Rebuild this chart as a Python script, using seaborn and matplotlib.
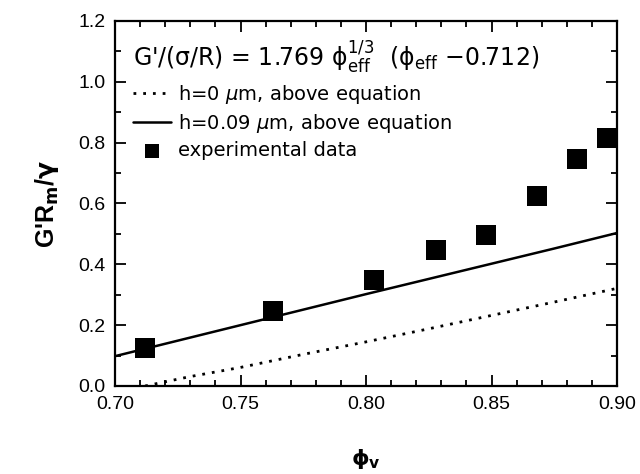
import numpy as np
import pandas as pd
import matplotlib
matplotlib.use('Agg')
import matplotlib.pyplot as plt
import seaborn as sns

# %%
# values
phi_exp = [0.712, 0.763, 0.803, 0.828, 0.848, 0.868, 0.884, 0.896]
g_exp = [0.125, 0.247, 0.349, 0.447, 0.497, 0.623, 0.745, 0.816]

# h=0 um curve (dotted)
phi_h0 = [0.712, 0.73, 0.75, 0.775, 0.80, 0.825, 0.85, 0.875, 0.90]
g_h0 = [0.000, 0.031, 0.061, 0.104, 0.145, 0.188, 0.232, 0.276, 0.321]

# h=0.09 um curve (solid)
phi_h9 = [0.70, 0.725, 0.75, 0.775, 0.80, 0.825, 0.85, 0.875, 0.90]
g_h9 = [0.098, 0.149, 0.200, 0.251, 0.302, 0.352, 0.402, 0.452, 0.503]

xticks = [0.70, 0.75, 0.80, 0.85, 0.90]
yticks = [0.0, 0.2, 0.4, 0.6, 0.8, 1.0, 1.2]

# %%
sns.set_style('ticks')
plt.rcParams['font.family'] = ['Liberation Sans', 'DejaVu Sans']
plt.rcParams['mathtext.fontset'] = 'dejavusans'
plt.rcParams['text.color'] = 'black'
plt.rcParams['axes.labelcolor'] = 'black'

fig = plt.figure(figsize=(6.4, 4.74), dpi=100)
ax = fig.add_axes([0.1797, 0.1857, 0.7844, 0.77])

sns.lineplot(x=phi_h0, y=g_h0, ax=ax, color='black', lw=2, linestyle=(0, (1, 2.5)),
             label=r'h=0 $\mu$m, above equation')
sns.lineplot(x=phi_h9, y=g_h9, ax=ax, color='black', lw=1.8,
             label=r'h=0.09 $\mu$m, above equation')
sns.scatterplot(x=phi_exp, y=g_exp, ax=ax, marker='s', s=205, color='black',
                edgecolor='black', linewidth=0, label='experimental data', zorder=3)

ax.set_xlim(0.70, 0.90)
ax.set_ylim(0.0, 1.2)
ax.set_xticks(xticks)
ax.set_xticklabels([f'{t:.2f}' for t in xticks])
ax.set_yticks(yticks)
ax.set_yticklabels([f'{t:.1f}' for t in yticks])
ax.xaxis.set_minor_locator(plt.MultipleLocator(0.01))
ax.yaxis.set_minor_locator(plt.MultipleLocator(0.1))
ax.tick_params(which='both', direction='in', top=True, right=True, width=1.3,
               labelsize=14, colors='black', pad=7)
ax.tick_params(which='major', length=8)
ax.tick_params(which='minor', length=4)
for s in ax.spines.values():
    s.set_linewidth(1.6)
    s.set_color('black')

ax.set_xlabel(r'$\mathbf{\phi_v}$', fontsize=16, labelpad=25)
ax.set_ylabel(r"G'R$_\mathbf{m}$/$\mathbf{\gamma}$", fontsize=18, fontweight='bold', labelpad=12)

# equation written inside the frame
ax.text(0.036, 0.9,
        r"G'/($\mathrm{\sigma}$/R) = 1.769 $\mathrm{\phi}_{\mathrm{eff}}^{1/3}$  ($\mathrm{\phi}_{\mathrm{eff}}$ $-$0.712)",
        transform=ax.transAxes, fontsize=17, family='DejaVu Sans', va='center', ha='left')

leg = ax.legend(loc='upper left', bbox_to_anchor=(0.035, 0.83), frameon=False,
                prop={'family': 'DejaVu Sans', 'size': 14}, handlelength=2.0,
                handletextpad=0.35, labelspacing=0.3, borderpad=0, borderaxespad=0,
                markerscale=0.75)

plt.savefig('out.png', dpi=100)
